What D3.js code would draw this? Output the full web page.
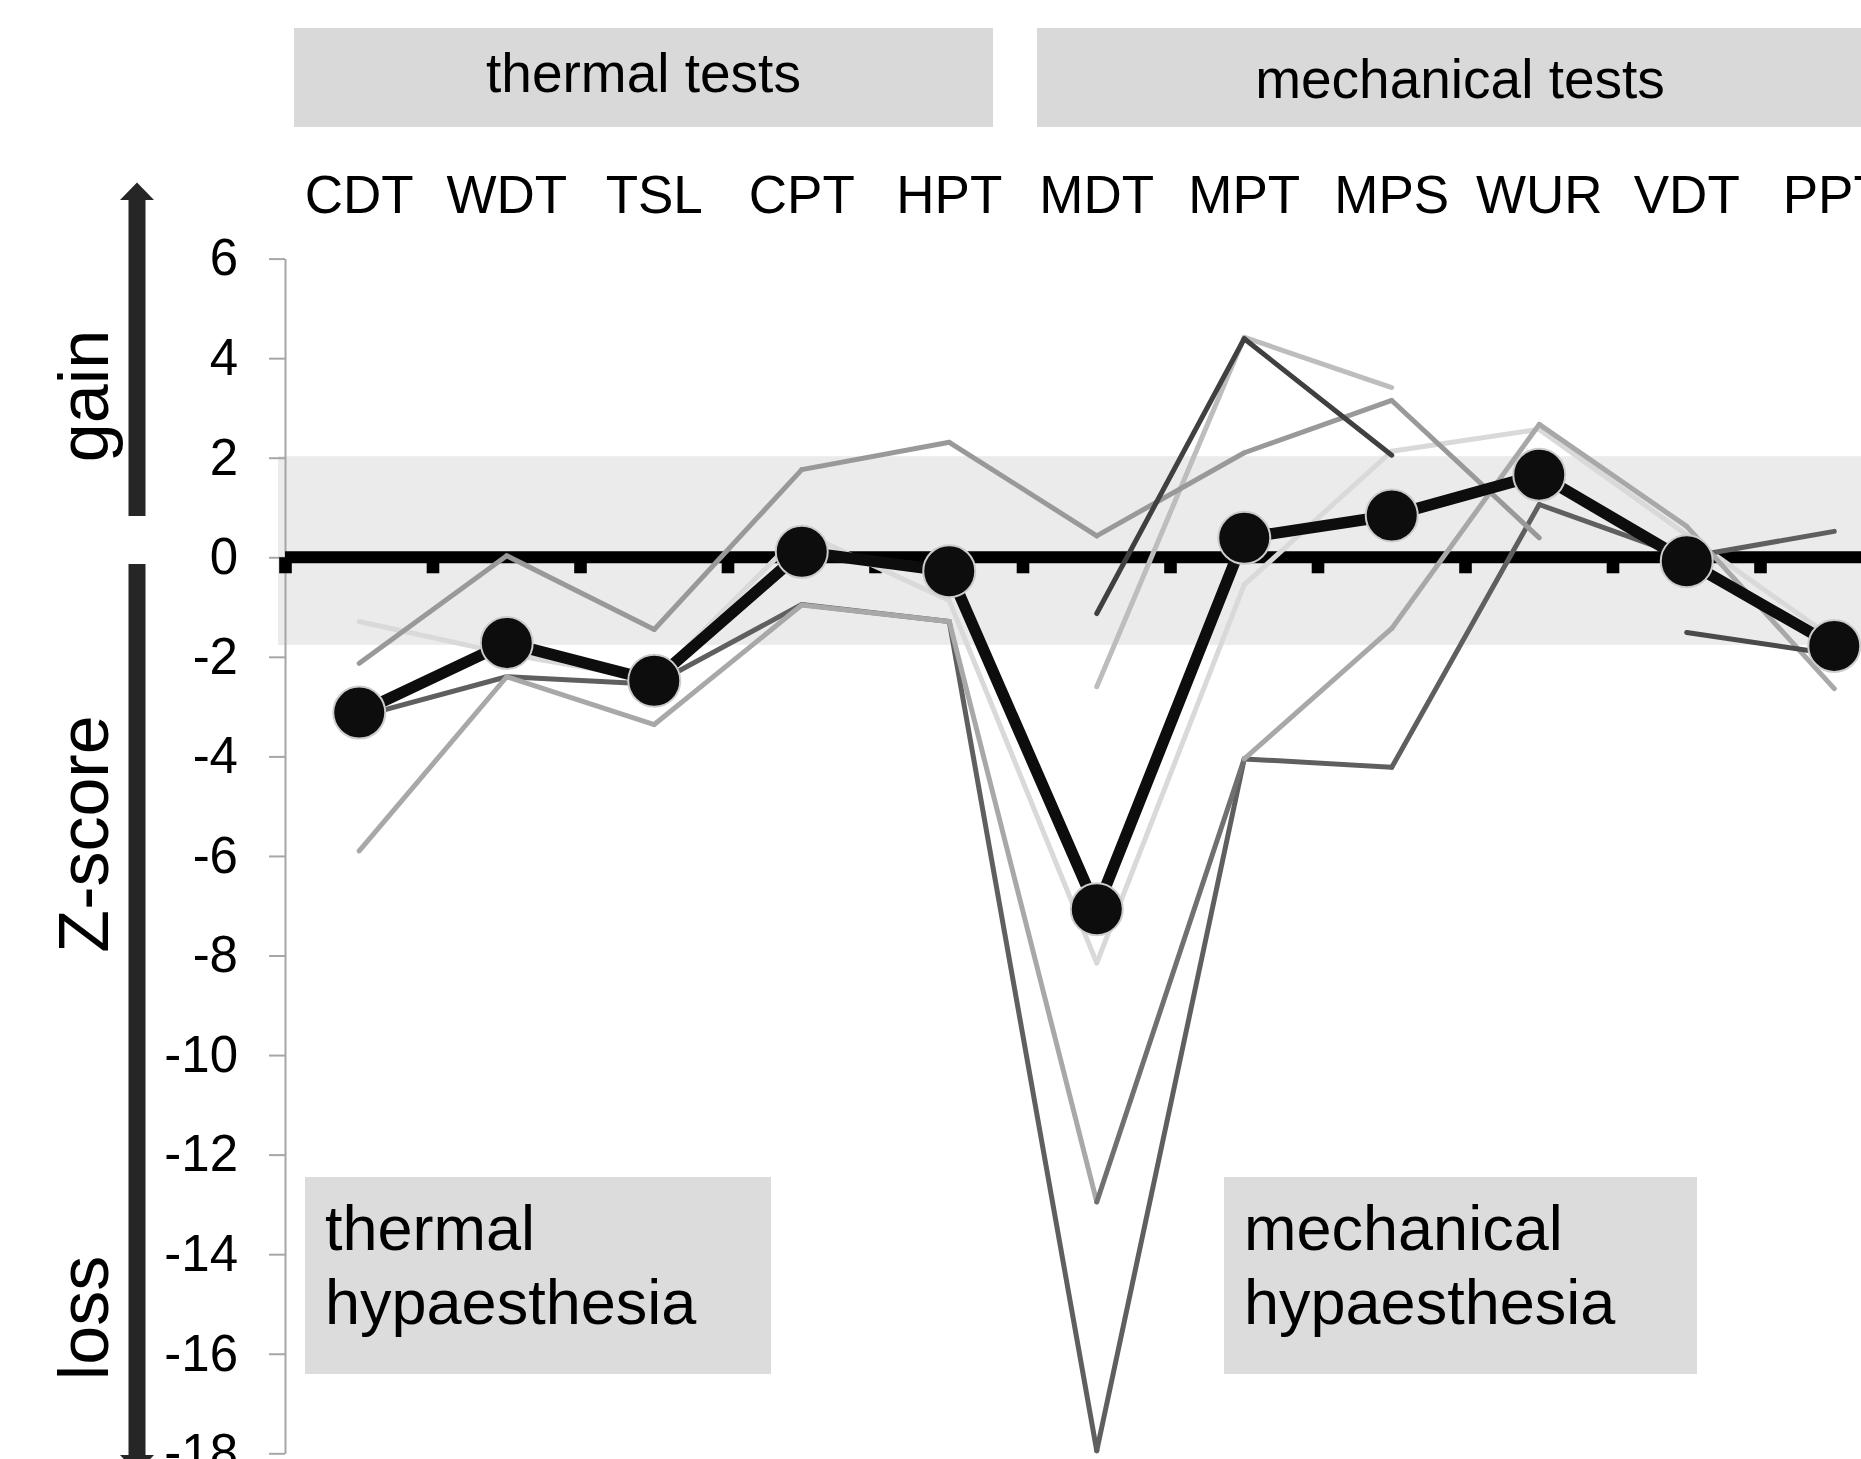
<!DOCTYPE html>
<html>
<head>
<meta charset="utf-8">
<script src="https://cdn.jsdelivr.net/npm/d3@7"></script>
<style>
  html, body { margin: 0; padding: 0; background: #ffffff; }
  svg { display: block; }
  text { font-family: "Liberation Sans", Arial, Helvetica, sans-serif; fill: #000; }
</style>
</head>
<body>
<svg id="chart" width="1861" height="1459"></svg>
<script>
// ---------------- data ----------------
const categories = ["CDT", "WDT", "TSL", "CPT", "HPT", "MDT", "MPT", "MPS", "WUR", "VDT", "PPT"];
const yTickValues = [6, 4, 2, 0, -2, -4, -6, -8, -10, -12, -14, -16, -18];
const normalRange = [-1.76, 2.03];
const groupLabels = ["thermal tests", "mechanical tests"];
const annotationLines = [["thermal", "hypaesthesia"], ["mechanical", "hypaesthesia"]];
const sideLabels = ["gain", "Z-score", "loss"];

// group mean (bold black line with markers)
const meanZ = [-3.12, -1.72, -2.48, 0.11, -0.28, -7.07, 0.39, 0.84, 1.66, -0.08, -1.78];

// individual patients (grey lines)
const patientA = [-2.13, 0.03, -1.45, 1.76, 2.31, 0.43, 2.10, 3.15, 0.39, null, null];
const patientB = [-5.90, -2.40, -3.36, -0.96, -1.29, -12.95, -4.05, -1.43, 2.67, 0.62, -2.64];
const patientC = [-3.20, -2.40, -2.55, -0.95, -1.29, -17.95, -4.05, -4.22, 1.06, 0.00, 0.52];
const patientD = [-1.29, -1.94, -2.46, 0.50, -0.87, -8.15, -0.55, 2.13, 2.57, 0.45, -1.65];
const patientE = [null, null, null, null, null, -1.13, 4.39, 2.05, null, null, null];
const patientF = [null, null, null, null, null, -2.60, 4.42, 3.41, null, null, null];
const patientG = [null, null, null, null, null, null, null, null, null, -1.51, -1.95];

// ---------------- styles ----------------
const patientStyles = [
  { values: patientD, color: "#d9d9d9" },
  { values: patientF, color: "#bdbdbd" },
  { values: patientC, color: "#5f5f5f" },
  { values: patientA, color: "#999999" },
  { values: patientB, color: "#a8a8a8", segmentColors: { 5: "#707070" } },
  { values: patientE, color: "#404040" },
  { values: patientG, color: "#4a4a4a" }
];

// ---------------- layout ----------------
const W = 1861, H = 1459;
const svg = d3.select("#chart");

const x = d3.scaleBand().domain(categories).range([285.5, 285.5 + 147.5 * categories.length]).padding(0);
const cx = c => x(c) + x.bandwidth() / 2;
const y = d3.scaleLinear().domain([-18, 6]).range([1453.3, 258.6]);

// normal range band
svg.append("rect")
  .attr("x", 278).attr("width", W - 278)
  .attr("y", y(normalRange[1])).attr("height", y(normalRange[0]) - y(normalRange[1]))
  .attr("fill", "#ebebeb");

// header boxes
const headerBoxes = [{ x0: 294, x1: 993, ty: 92 }, { x0: 1037, x1: 1883, ty: 97.5 }];
groupLabels.forEach((lab, i) => {
  const b = headerBoxes[i];
  svg.append("rect").attr("x", b.x0).attr("y", 28).attr("width", b.x1 - b.x0).attr("height", 99).attr("fill", "#d9d9d9");
  svg.append("text").attr("x", (b.x0 + b.x1) / 2).attr("y", b.ty)
    .attr("text-anchor", "middle").attr("font-size", 55).text(lab);
});

// category labels (top)
svg.append("g").selectAll("text").data(categories).join("text")
  .attr("x", d => cx(d)).attr("y", 213)
  .attr("text-anchor", "middle").attr("font-size", 53)
  .text(d => d);

// y axis
const yAxis = d3.axisLeft(y).tickValues(yTickValues).tickSize(16).tickSizeOuter(0).tickPadding(31)
  .tickFormat(d => String(d));
const gy = svg.append("g").attr("transform", "translate(285,0)").call(yAxis);
gy.select(".domain").attr("stroke", "#a6a6a6").attr("stroke-width", 2);
gy.selectAll(".tick line").attr("stroke", "#a6a6a6").attr("stroke-width", 2);
gy.selectAll(".tick text").attr("font-size", 51).attr("fill", "#000")
  .attr("font-family", "'Liberation Sans', Arial, sans-serif");

// zero line with tick marks at category boundaries
const y0 = y(0);
svg.append("line").attr("x1", 285).attr("x2", W).attr("y1", y0).attr("y2", y0)
  .attr("stroke", "#000").attr("stroke-width", 12);
const boundaries = categories.map(c => x(c));
svg.append("g").selectAll("rect").data(boundaries).join("rect")
  .attr("x", d => d - 6.3).attr("width", 12.6)
  .attr("y", y0).attr("height", 16)
  .attr("fill", "#000");

// patient lines
const seg = d3.line().x(d => cx(d[0])).y(d => y(d[1]));
const gp = svg.append("g").attr("fill", "none").attr("stroke-linecap", "round").attr("stroke-linejoin", "round");
patientStyles.forEach(s => {
  const pairs = [];
  for (let i = 0; i < categories.length - 1; i++) {
    if (s.values[i] != null && s.values[i + 1] != null) {
      pairs.push({ i, pts: [[categories[i], s.values[i]], [categories[i + 1], s.values[i + 1]]] });
    }
  }
  gp.append("g").selectAll("path").data(pairs).join("path")
    .attr("d", d => seg(d.pts))
    .attr("stroke", d => (s.segmentColors && s.segmentColors[d.i]) || s.color)
    .attr("stroke-width", 5);
});

// mean line with markers
const meanData = categories.map((c, i) => [c, meanZ[i]]);
svg.append("path").datum(meanData)
  .attr("d", d3.line().x(d => cx(d[0])).y(d => y(d[1])))
  .attr("fill", "none").attr("stroke", "#0d0d0d").attr("stroke-width", 11.5)
  .attr("stroke-linejoin", "round");
svg.append("g").selectAll("circle").data(meanData).join("circle")
  .attr("cx", d => cx(d[0])).attr("cy", d => y(d[1])).attr("r", 26)
  .attr("fill", "#0d0d0d").attr("stroke", "#cccccc").attr("stroke-width", 2);

// annotation boxes
const annBoxes = [{ x0: 305, x1: 771, tx: 325 }, { x0: 1224, x1: 1697, tx: 1244 }];
annotationLines.forEach((lines, i) => {
  const b = annBoxes[i];
  svg.append("rect").attr("x", b.x0).attr("y", 1177).attr("width", b.x1 - b.x0).attr("height", 197).attr("fill", "#dcdcdc");
  const t = svg.append("text").attr("x", b.tx).attr("y", 1250).attr("font-size", 63);
  lines.forEach((ln, j) => t.append("tspan").attr("x", b.tx).attr("y", 1250 + j * 74).text(ln));
});

// gain / loss arrows
const arrowColor = "#262626";
svg.append("rect").attr("x", 128.5).attr("y", 199).attr("width", 17).attr("height", 317).attr("fill", arrowColor);
svg.append("path").attr("d", "M120,200 L137,182.5 L154,200 Z").attr("fill", arrowColor);
svg.append("rect").attr("x", 128.5).attr("y", 564).attr("width", 17).attr("height", 893).attr("fill", arrowColor);
svg.append("path").attr("d", "M120,1455 L137,1473 L154,1455 Z").attr("fill", arrowColor);

// side labels
const sideY = [396, 834, 1318];
sideLabels.forEach((lab, i) => {
  svg.append("text").attr("transform", `translate(108,${sideY[i]}) rotate(-90)`)
    .attr("text-anchor", "middle").attr("font-size", 70).text(lab);
});
</script>
</body>
</html>
